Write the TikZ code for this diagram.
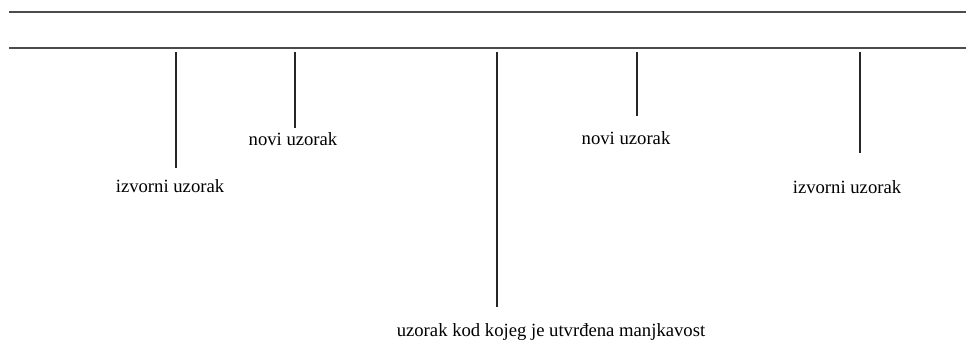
\documentclass[tikz,border=0pt]{standalone}
\usepackage{fontspec}
\setmainfont{Liberation Serif}
\tikzset{
  rule/.style={draw=black!70, line width=0.8pt},
  stem/.style={draw=black!85, line width=1.1pt},
  lbl/.style={font=\fontsize{14}{16}\selectfont, inner sep=0pt, anchor=base}
}
\begin{document}
\begin{tikzpicture}[x=0.75pt, y=-0.75pt]
    \useasboundingbox (0,0) rectangle (966,344);
    % horizontal rules
    \coordinate (r1a) at (9,12);  \coordinate (r1b) at (966,12);
    \coordinate (r2a) at (9,48);  \coordinate (r2b) at (966,48);
    \draw[rule] (r1a) -- (r1b);
    \draw[rule] (r2a) -- (r2b);

    % labels
    \node[lbl] (src1) at (170,192) {izvorni uzorak};
    \node[lbl] (new1) at (293,145) {novi uzorak};
    \node[lbl] (bad) at (551,336) {uzorak kod kojeg je utvrđena manjkavost};
    \node[lbl] (new2) at (626,144) {novi uzorak};
    \node[lbl] (src2) at (847,193) {izvorni uzorak};

    % stems
    \coordinate (s1t) at (176,52);  \coordinate (s1b) at (176,168);
    \coordinate (s2t) at (295,52);  \coordinate (s2b) at (295,128);
    \coordinate (s3t) at (497,52);  \coordinate (s3b) at (497,307);
    \coordinate (s4t) at (637,52);  \coordinate (s4b) at (637,116);
    \coordinate (s5t) at (860,52);  \coordinate (s5b) at (860,153);
    \draw[stem] (s1t) -- (s1b);
    \draw[stem] (s2t) -- (s2b);
    \draw[stem] (s3t) -- (s3b);
    \draw[stem] (s4t) -- (s4b);
    \draw[stem] (s5t) -- (s5b);
\end{tikzpicture}
\end{document}
